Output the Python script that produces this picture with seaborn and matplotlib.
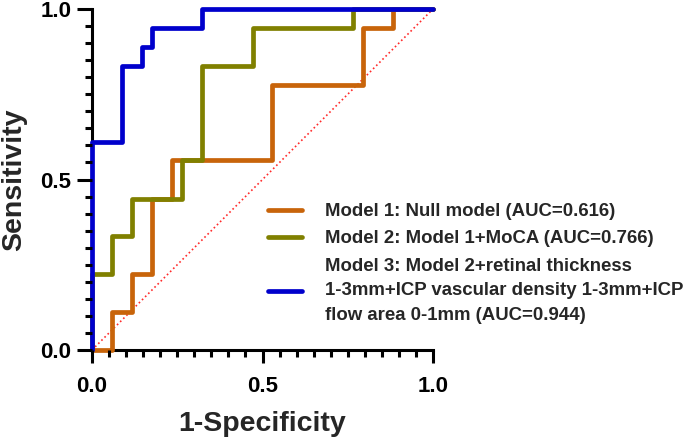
import numpy as np
import pandas as pd
import seaborn as sns
import matplotlib
matplotlib.use("Agg")
import matplotlib.pyplot as plt
from matplotlib.ticker import MultipleLocator, FixedLocator

# ROC step vertices (1-Specificity, Sensitivity)
m1_fpr = [0.0, 0.059, 0.059, 0.118, 0.118, 0.176, 0.176, 0.235, 0.235, 0.529, 0.529, 0.794, 0.794, 0.882, 0.882, 1.0]
m1_tpr = [0.0, 0.0, 0.111, 0.111, 0.222, 0.222, 0.444, 0.444, 0.556, 0.556, 0.778, 0.778, 0.944, 0.944, 1.0, 1.0]

m2_fpr = [0.0, 0.0, 0.059, 0.059, 0.118, 0.118, 0.265, 0.265, 0.324, 0.324, 0.471, 0.471, 0.765, 0.765, 1.0]
m2_tpr = [0.0, 0.222, 0.222, 0.333, 0.333, 0.444, 0.444, 0.556, 0.556, 0.833, 0.833, 0.944, 0.944, 1.0, 1.0]

m3_fpr = [0.0, 0.0, 0.088, 0.088, 0.147, 0.147, 0.176, 0.176, 0.324, 0.324, 1.0]
m3_tpr = [0.0, 0.611, 0.611, 0.833, 0.833, 0.889, 0.889, 0.944, 0.944, 1.0, 1.0]

diag_x = [0.0, 1.0]
diag_y = [0.0, 1.0]

tick_values = [0.0, 0.5, 1.0]
tick_labels = ["0.0", "0.5", "1.0"]

labels = [
    "Model 1: Null model (AUC=0.616)",
    "Model 2: Model 1+MoCA (AUC=0.766)",
    "Model 3: Model 2+retinal thickness\n1-3mm+ICP vascular density 1-3mm+ICP\nflow area 0-1mm (AUC=0.944)",
]
colors = ["#C8640A", "#808000", "#0000CC"]

frames = []
for lab, fx, fy in zip(labels, [m1_fpr, m2_fpr, m3_fpr], [m1_tpr, m2_tpr, m3_tpr]):
    frames.append(pd.DataFrame({"fpr": fx, "tpr": fy, "model": lab}))
df = pd.concat(frames, ignore_index=True)

sns.set_style("ticks")
plt.rcParams["font.family"] = ["Liberation Sans", "DejaVu Sans"]
plt.rcParams["font.weight"] = "bold"

fig = plt.figure(figsize=(6.85, 4.41), dpi=100)
rect = [92 / 685, 91 / 441, 341 / 685, 341 / 441]

# background axes carrying only the chance diagonal
bg = fig.add_axes(rect, zorder=0)
bg.plot(diag_x, diag_y, color="#FF2A2A", linestyle=":", linewidth=1.2)
bg.set_xlim(0, 1)
bg.set_ylim(0, 1)
bg.axis("off")

ax = fig.add_axes(rect, zorder=1)
ax.patch.set_facecolor("none")

sns.lineplot(data=df, x="fpr", y="tpr", hue="model", hue_order=labels,
             palette=dict(zip(labels, colors)), estimator=None, sort=False,
             linewidth=3.4, ax=ax, clip_on=False, zorder=3)

# tick marks drawn as axis-attached segments (major + minor every 0.05)
minor_vals = [v for v in MultipleLocator(0.05).tick_values(0, 1)
              if -1e-9 <= v <= 1 + 1e-9 and min(abs(v - m) for m in tick_values) > 1e-6]
xt = ax.get_xaxis_transform()
yt = ax.get_yaxis_transform()
ax.vlines(tick_values, -13 / 341, 0, transform=xt, colors="black", linewidth=2.2, clip_on=False, zorder=4)
ax.vlines(minor_vals, -7 / 341, 0, transform=xt, colors="black", linewidth=2.2, clip_on=False, zorder=4)
ax.hlines(tick_values, -15 / 341, 0, transform=yt, colors="black", linewidth=2.2, clip_on=False, zorder=4)
ax.hlines(minor_vals, -7 / 341, 0, transform=yt, colors="black", linewidth=2.2, clip_on=False, zorder=4)

ax.set_xlim(0, 1)
ax.set_ylim(0, 1)
ax.xaxis.set_major_locator(FixedLocator(tick_values))
ax.yaxis.set_major_locator(FixedLocator(tick_values))
ax.set_xticklabels(tick_labels, fontsize=16, fontweight="bold")
ax.set_yticklabels(tick_labels, fontsize=16, fontweight="bold")
ax.tick_params(which="both", length=0, colors="black")
ax.tick_params(axis="x", pad=18.5)
ax.tick_params(axis="y", pad=15)

for s in ["top", "right"]:
    ax.spines[s].set_visible(False)
for s in ["left", "bottom"]:
    ax.spines[s].set_linewidth(2.2)
    ax.spines[s].set_color("black")

ax.set_xlabel("1-Specificity", fontsize=20.5, fontweight="bold")
ax.set_ylabel("Sensitivity", fontsize=20.5, fontweight="bold")
ax.xaxis.set_label_coords(0.5, -0.178)
ax.yaxis.set_label_coords(-0.191, 0.5)

handles, labs = ax.get_legend_handles_labels()
leg = ax.legend(handles, labs, loc="upper left", bbox_to_anchor=(268 / 685, 1 - 203 / 441),
                bbox_transform=fig.transFigure, frameon=False,
                prop={"weight": "bold", "size": 13.4}, handlelength=1.85, handletextpad=1.2,
                labelspacing=0.56, borderaxespad=0, borderpad=0)
for t in leg.get_texts():
    t.set_linespacing(1.58)

fig.savefig("out.png", dpi=100)
